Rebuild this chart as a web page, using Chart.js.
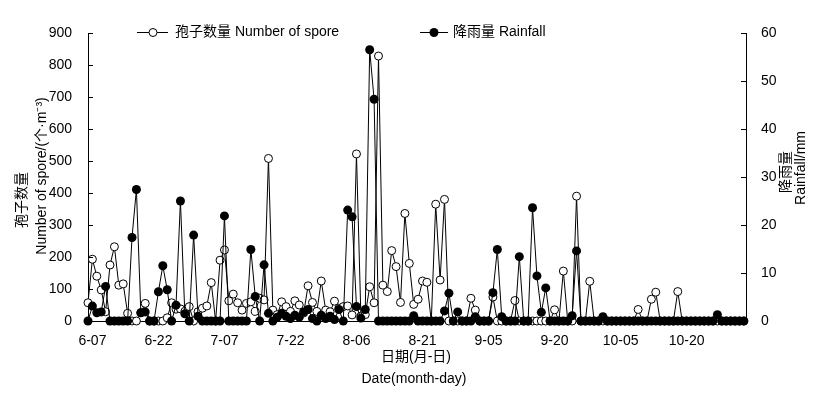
<!DOCTYPE html>
<html>
<head>
<meta charset="utf-8">
<script src="https://cdn.jsdelivr.net/npm/chart.js@4.4.1/dist/chart.umd.min.js"></script>
<style>
    html, body { margin: 0; padding: 0; background: #fff; }
    #wrap { width: 824px; height: 394px; }
</style>
</head>
<body>
<div id="wrap"><canvas id="chart" width="824" height="394"></canvas></div>
<script>
// daily series, first day is 6-06
var startMonth = 6, startDay = 6;

var sporeCount = [
    57, 193, 140, 97, 29, 175, 232, 112, 116, 24,
    0, 0, 26, 55, 0, 0, 0, 0, 10, 57,
    37, 38, 30, 45, 0, 29, 40, 47, 120, 0,
    190, 222, 63, 84, 57, 34, 55, 60, 30, 71,
    66, 508, 34, 20, 60, 45, 30, 63, 50, 25,
    110, 58, 30, 125, 34, 29, 62, 40, 45, 47,
    19, 522, 15, 20, 107, 57, 828, 112, 92, 220,
    170, 58, 336, 180, 52, 68, 125, 121, 0, 365,
    128, 380, 0, 0, 0, 0, 0, 71, 34, 0,
    0, 0, 75, 0, 0, 0, 0, 64, 0, 0,
    0, 0, 0, 0, 0, 0, 35, 0, 156, 0,
    0, 390, 0, 0, 124, 0, 0, 0, 0, 0,
    0, 0, 0, 0, 0, 36, 0, 0, 68, 90,
    0, 0, 0, 0, 92, 0, 0, 0, 0, 0,
    0, 0, 0, 0, 0, 0, 0, 0, 0, 0
];

var rainfall = [
    0, 3.1, 1.7, 1.9, 7.2, 0, 0, 0, 0, 0,
    17.4, 27.4, 1.7, 1.9, 0, 0, 6.1, 11.5, 6.5, 0,
    3.3, 25, 1.5, 0, 17.9, 1, 0, 0, 0, 0,
    0, 21.9, 0, 0, 0, 0, 0, 14.9, 5.1, 0,
    11.7, 1.6, 0, 0.8, 1.6, 1, 0.5, 1.2, 0.8, 1.9,
    2.4, 0.5, 0, 1.2, 0.5, 1, 0.3, 2.4, 0, 23.1,
    21.7, 3, 0.6, 2.4, 56.5, 46.2, 0, 0, 0, 0,
    0, 0, 0, 0, 1.1, 0, 0, 0, 0, 0,
    0, 2.1, 5.8, 0, 1.9, 0, 0, 0, 0.9, 0,
    0, 0, 5.9, 14.9, 0.9, 0, 0, 0, 13.4, 0,
    0, 23.6, 9.4, 1.8, 6.9, 0, 0, 0, 0, 0,
    1.1, 14.6, 0, 0, 0, 0, 0, 0.9, 0, 0,
    0, 0, 0, 0, 0, 0, 0, 0, 0, 0,
    0, 0, 0, 0, 0, 0, 0, 0, 0, 0,
    0, 0, 0, 1.3, 0, 0, 0, 0, 0, 0
];

var tickLabels = ['6-07', '6-22', '7-07', '7-22', '8-06', '8-21', '9-05', '9-20', '10-05', '10-20'];

var sporeLabel = '孢子数量 Number of spore';
var rainLabel = '降雨量 Rainfall';

var FONT = '"Liberation Sans", Arial, "Noto Sans CJK SC", sans-serif';

// build m-dd labels for every day
var dayLabels = [];
(function() {
    var d = new Date(2000, startMonth - 1, startDay);
    for (var i = 0; i < sporeCount.length; i++) {
        var dd = d.getDate();
        dayLabels.push((d.getMonth() + 1) + '-' + (dd < 10 ? '0' + dd : dd));
        d.setDate(dd + 1);
    }
})();

var tickIdx = tickLabels.map(function(l) { return dayLabels.indexOf(l); });

function toPoints(arr) {
    return arr.map(function(v, i) { return { x: i, y: v }; });
}

// inward tick marks, legend and axis titles
var decorPlugin = {
    id: 'decor',
    afterDraw: function(chart) {
        var ctx = chart.ctx;
        var area = chart.chartArea;
        var y = chart.scales.y, y1 = chart.scales.y1;
        ctx.save();
        ctx.strokeStyle = '#000';
        ctx.lineWidth = 1;
        ctx.beginPath();
        y.ticks.forEach(function(t) {
            var p = Math.round(y.getPixelForValue(t.value)) + 0.5;
            ctx.moveTo(area.left, p);
            ctx.lineTo(area.left + 5, p);
        });
        y1.ticks.forEach(function(t) {
            var p = Math.round(y1.getPixelForValue(t.value)) + 0.5;
            ctx.moveTo(area.right, p);
            ctx.lineTo(area.right - 5, p);
        });
        ctx.stroke();

        // legend
        ctx.font = '14px ' + FONT;
        ctx.fillStyle = '#000';
        ctx.textBaseline = 'middle';
        ctx.textAlign = 'left';
        var ly = 32.5;
        ctx.beginPath();
        ctx.moveTo(137, ly); ctx.lineTo(168, ly);
        ctx.moveTo(420, ly); ctx.lineTo(448, ly);
        ctx.stroke();
        ctx.beginPath();
        ctx.arc(153, ly, 4, 0, Math.PI * 2);
        ctx.fillStyle = '#fff';
        ctx.fill();
        ctx.stroke();
        ctx.beginPath();
        ctx.arc(434, ly, 4.5, 0, Math.PI * 2);
        ctx.fillStyle = '#000';
        ctx.fill();
        ctx.fillText(sporeLabel, 175, ly);
        ctx.fillText(rainLabel, 453, ly);

        // axis titles
        ctx.textAlign = 'center';
        ctx.fillText('日期(月-日)', 416, 357);
        ctx.fillText('Date(month-day)', 414, 379);

        ctx.save();
        ctx.translate(22, 200);
        ctx.rotate(-Math.PI / 2);
        ctx.fillText('孢子数量', 0, 0);
        ctx.restore();
        ctx.save();
        ctx.translate(42, 176);
        ctx.rotate(-Math.PI / 2);
        ctx.fillText('Number of spore/(个·m⁻³)', 0, 0);
        ctx.restore();

        ctx.save();
        ctx.translate(786, 172);
        ctx.rotate(-Math.PI / 2);
        ctx.fillText('降雨量', 0, 0);
        ctx.restore();
        ctx.save();
        ctx.translate(801, 168);
        ctx.rotate(-Math.PI / 2);
        ctx.fillText('Rainfall/mm', 0, 0);
        ctx.restore();

        ctx.restore();
    }
};

var tickFont = { family: FONT, size: 14 };

new Chart(document.getElementById('chart'), {
    type: 'line',
    data: {
        datasets: [
            {
                label: sporeLabel,
                data: toPoints(sporeCount),
                yAxisID: 'y',
                borderColor: '#000',
                borderWidth: 1,
                pointStyle: 'circle',
                pointRadius: 4,
                pointBorderWidth: 1,
                pointBorderColor: '#000',
                pointBackgroundColor: '#fff',
                tension: 0,
                clip: false,
                order: 1
            },
            {
                label: rainLabel,
                data: toPoints(rainfall),
                yAxisID: 'y1',
                borderColor: '#000',
                borderWidth: 1,
                pointStyle: 'circle',
                pointRadius: 4.5,
                pointBorderWidth: 0,
                pointBackgroundColor: '#000',
                tension: 0,
                clip: false,
                order: 0
            }
        ]
    },
    options: {
        responsive: false,
        animation: false,
        layout: { padding: { top: 33, left: 0, right: 0, bottom: 0 } },
        plugins: {
            legend: { display: false },
            tooltip: { enabled: false }
        },
        scales: {
            x: {
                type: 'linear',
                min: 0,
                max: sporeCount.length - 0.5,
                afterFit: function(s) { s.height = 73; },
                afterBuildTicks: function(s) {
                    s.ticks = tickIdx.map(function(v) { return { value: v }; });
                },
                ticks: {
                    autoSkip: false,
                    maxRotation: 0,
                    padding: 4,
                    color: '#000',
                    font: tickFont,
                    callback: function(v) { return dayLabels[v]; }
                },
                grid: { display: false },
                border: { color: '#000', width: 1 }
            },
            y: {
                position: 'left',
                min: 0,
                max: 900,
                afterFit: function(s) { s.width = 88; },
                ticks: { stepSize: 100, padding: 8, color: '#000', font: tickFont },
                grid: { display: false },
                border: { color: '#000', width: 1 }
            },
            y1: {
                position: 'right',
                min: 0,
                max: 60,
                afterFit: function(s) { s.width = 78; },
                ticks: { stepSize: 10, padding: 7, color: '#000', font: tickFont },
                grid: { display: false },
                border: { color: '#000', width: 1 }
            }
        }
    },
    plugins: [decorPlugin]
});
</script>
</body>
</html>
